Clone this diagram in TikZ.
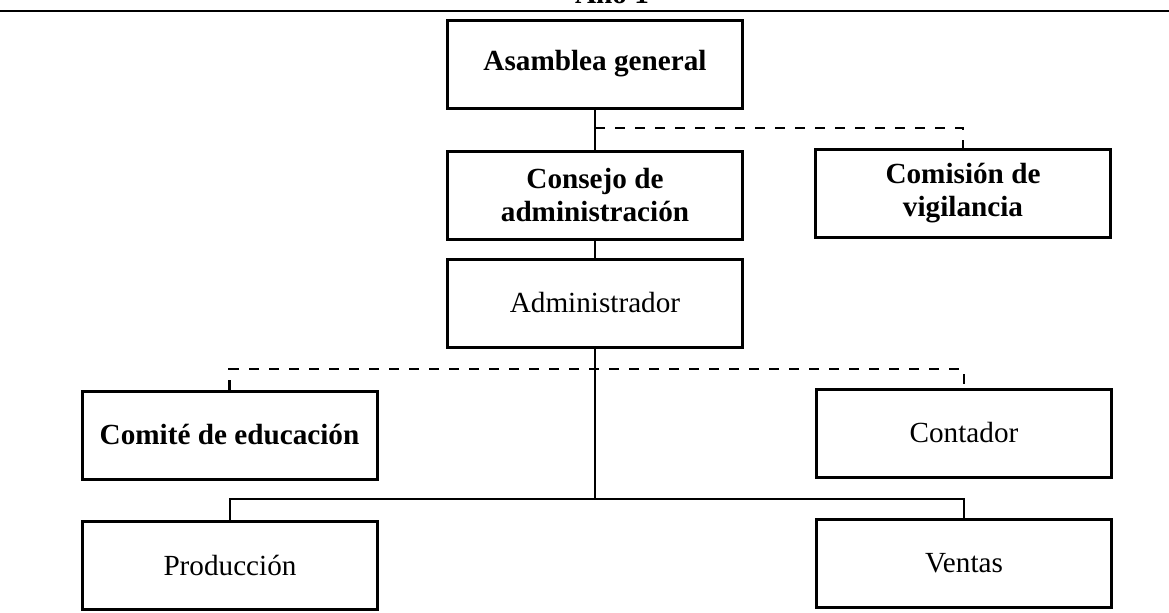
\documentclass[tikz,border=0pt]{standalone}
\usepackage{fontspec}
\setmainfont{Liberation Serif}
\begin{document}
\begin{tikzpicture}[x=0.5pt,y=-0.5pt,
  box/.style={draw,black,line width=1.5pt,rectangle,minimum width=147.5pt,minimum height=44pt,inner sep=0pt,align=center,font=\fontsize{14.6}{16.5}\selectfont},
  tie/.style={line width=1.2pt},
  dashtie/.style={line width=1.2pt,dash pattern=on 5pt off 5pt}]
\def\t{\bfseries}
\useasboundingbox (0,0) rectangle (1169,612);
\node [font=\fontsize{14.6}{16.5}\selectfont\bfseries, anchor=base, name=t1] at (612,3) {Año 1};
\draw [line width=1pt] (0,11) -- (1169,11);
%\draw [line width=1pt] (0,14) -- (1169,14);

\node [box, name=a1] at (595,64) {\t Asamblea general};
\node [box, name=b1] at (595,195) {\t Consejo de\\\t administración};
\node [box, name=b2] at (963,193.5) {\t Comisión de\\\t vigilancia};
\node [box, name=c1] at (595,303) {Administrador};
\node [box, name=d1] at (229.5,435) {\t Comité de educación};
\node [box, name=d2] at (964,433) {Contador};
\node [box, name=e1] at (230,565) {Producción};
\node [box, name=e2] at (964,563) {Ventas};
\coordinate (j1) at (595,128);
\coordinate (j2) at (595,369);
\coordinate (j3) at (595,499);
\draw [tie](a1) to (b1);
\draw [dashtie](j1) -| (b2);
\draw [tie](b1) to (c1);
\draw [tie](c1) to (j3);
\draw [dashtie](d1) |- (j2) -| (d2);
\draw [tie](e1) |- (j3) -| (e2);
\end{tikzpicture}
\end{document}
